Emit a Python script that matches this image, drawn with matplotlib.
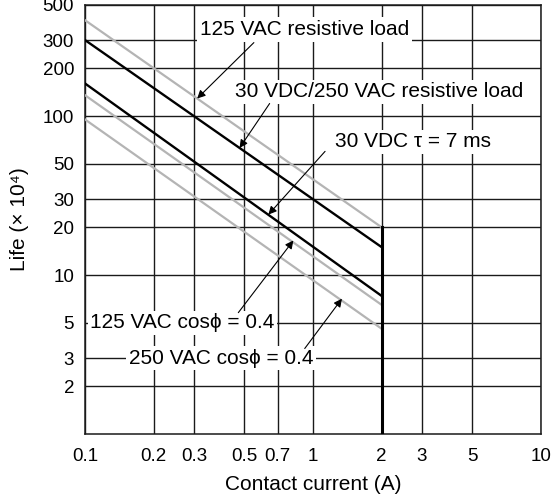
import matplotlib
matplotlib.use("Agg")
import matplotlib.pyplot as plt

plt.rcParams['font.family'] = ['Liberation Sans', 'DejaVu Sans']

# contact current (A) at both ends of each life line
current = [0.1, 2]
life_125vac_res = [400, 20]
life_30vdc_250vac_res = [300, 15]
life_30vdc_tau = [160, 7.4]
life_125vac_cos = [135, 6.5]
life_250vac_cos = [95, 4.6]

# upper limit of contact current
limit_x = [2, 2]
limit_y = [1, 20]

xticks = [0.1, 0.2, 0.3, 0.5, 0.7, 1, 2, 3, 5, 10]
xticklabels = ["0.1", "0.2", "0.3", "0.5", "0.7", "1", "2", "3", "5", "10"]
yticks = [2, 3, 5, 10, 20, 30, 50, 100, 200, 300, 500]
yticklabels = ["2", "3", "5", "10", "20", "30", "50", "100", "200", "300", "500"]

# label text, text centre, arrow tail, arrow head
labels = [
    ("125 VAC resistive load", (0.92, 350), (0.55, 290), (0.31, 129)),
    ("30 VDC/250 VAC resistive load", (1.95, 142), (0.645, 120), (0.476, 63)),
    ("30 VDC \u03c4 = 7 ms", (2.76, 69), (1.13, 60), (0.637, 24)),
    ("125 VAC cos\u03d5 = 0.4", (0.267, 5), (0.47, 5.8), (0.82, 16.5)),
    ("250 VAC cos\u03d5 = 0.4", (0.395, 3), (0.92, 3.45), (1.34, 7.1)),
]

fig = plt.figure(figsize=(5.52, 5.00), dpi=100)
ax = fig.add_axes([0.1545, 0.132, 0.825, 0.858])

ax.set_xscale("log")
ax.set_yscale("log")
ax.set_xlim(0.1, 10)
ax.set_ylim(1, 500)

ax.set_xticks(xticks)
ax.set_xticklabels(xticklabels)
ax.set_yticks(yticks)
ax.set_yticklabels(yticklabels)
ax.minorticks_off()
ax.tick_params(length=0, labelsize=13.5)
ax.tick_params(axis="x", pad=10)
ax.tick_params(axis="y", pad=8)
ax.grid(True, color="#1a1a1a", linewidth=1.0)
ax.set_axisbelow(True)
for s in ax.spines.values():
    s.set_linewidth(1.1)
    s.set_color("#1a1a1a")

gray = "#b4b4b4"
ax.plot(current, life_125vac_res, color=gray, lw=1.6, zorder=3)
ax.plot(current, life_125vac_cos, color=gray, lw=1.6, zorder=3)
ax.plot(current, life_250vac_cos, color=gray, lw=1.6, zorder=3)
ax.plot(current, life_30vdc_250vac_res, color="black", lw=1.7, zorder=4)
ax.plot(current, life_30vdc_tau, color="black", lw=1.7, zorder=4)
ax.plot(limit_x, limit_y, color="black", lw=2.2, zorder=4)

for text, pos, tail, head in labels:
    ax.text(pos[0], pos[1], text, ha="center", va="center", fontsize=15, zorder=2.5,
            bbox=dict(facecolor="white", edgecolor="none", pad=2))
    ax.annotate("", xy=head, xytext=tail, zorder=5,
                arrowprops=dict(arrowstyle="-|>", color="black", lw=0.8,
                                mutation_scale=12, shrinkA=0, shrinkB=0))

ax.set_xlabel("Contact current (A)", fontsize=15, labelpad=7)
ax.set_ylabel("Life (\u00d7 10\u2074)", fontsize=15, labelpad=10)

fig.savefig("out.png", dpi=100)
